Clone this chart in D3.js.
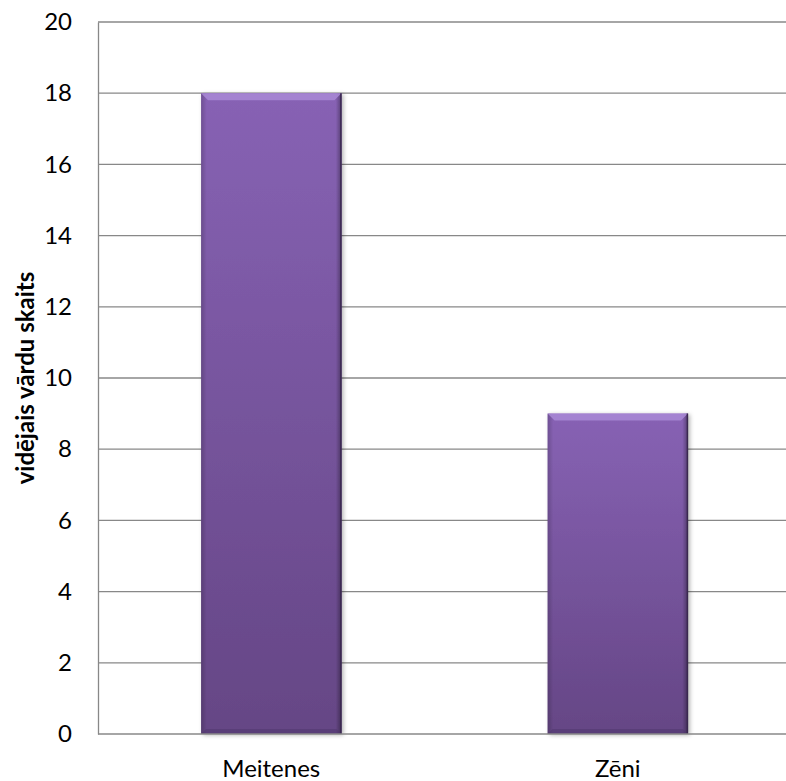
<!DOCTYPE html>
<html><head><meta charset="utf-8">
<script src="https://cdn.jsdelivr.net/npm/d3@7"></script>
<style>body{margin:0;background:#fff}svg{display:block}</style>
</head><body>
<script>
const categories = ["Meitenes", "Zēni"];
const values = [18, 9];
const yTicks = [0, 2, 4, 6, 8, 10, 12, 14, 16, 18, 20];
const yTitle = "vidējais vārdu skaits";

const FONT = "Lato, 'Open Sans', sans-serif";
const W = 786, H = 781;
const m = {left: 98, top: 22, right: -5, bottom: 47};
const svg = d3.select("body").append("svg").attr("width", W).attr("height", H);
const defs = svg.append("defs");
const g1 = defs.append("linearGradient").attr("id", "bg").attr("x1", 0).attr("y1", 0).attr("x2", 0).attr("y2", 1);
g1.append("stop").attr("offset", "0%").attr("stop-color", "#8762b4");
g1.append("stop").attr("offset", "100%").attr("stop-color", "#654685");
const g2 = defs.append("linearGradient").attr("id", "side").attr("x1", 0).attr("y1", 0).attr("x2", 1).attr("y2", 0);
g2.append("stop").attr("offset", "0%").attr("stop-color", "#000").attr("stop-opacity", 0.18);
g2.append("stop").attr("offset", "4%").attr("stop-color", "#000").attr("stop-opacity", 0);
g2.append("stop").attr("offset", "96%").attr("stop-color", "#000").attr("stop-opacity", 0);
g2.append("stop").attr("offset", "100%").attr("stop-color", "#000").attr("stop-opacity", 0.35);
const flt = defs.append("filter").attr("id", "sh").attr("x", "-10%").attr("y", "-10%").attr("width", "130%").attr("height", "130%");
flt.append("feDropShadow").attr("dx", 2).attr("dy", 1).attr("stdDeviation", 2).attr("flood-color", "#000").attr("flood-opacity", 0.3);

const x = d3.scaleBand().domain(categories).range([m.left, W - m.right]).paddingInner(0.595).paddingOuter(0.2975);
const y = d3.scaleLinear().domain([0, 20]).range([H - m.bottom, m.top]);

// gridlines
svg.append("g").selectAll("line").data(yTicks.filter(d => d > 0)).join("line")
  .attr("x1", m.left).attr("x2", W).attr("y1", d => y(d)).attr("y2", d => y(d))
  .attr("stroke", "#888").attr("stroke-width", 1.3);

// y axis
const ya = svg.append("g").attr("transform", `translate(${m.left},0)`)
  .call(d3.axisLeft(y).tickValues(yTicks).tickSize(0).tickPadding(26));
ya.select(".domain").attr("stroke", "#888").attr("stroke-width", 1.3);
ya.selectAll("text").attr("font-size", 24).attr("font-family", FONT).attr("fill", "#000");

// bars
const bars = svg.append("g").selectAll("g").data(values).join("g");
bars.append("rect")
  .attr("x", (d, i) => x(categories[i])).attr("width", x.bandwidth())
  .attr("y", d => y(d)).attr("height", d => y(0) - y(d))
  .attr("fill", "url(#bg)").attr("filter", "url(#sh)");
bars.append("rect")
  .attr("x", (d, i) => x(categories[i])).attr("width", x.bandwidth())
  .attr("y", d => y(d)).attr("height", d => y(0) - y(d))
  .attr("fill", "url(#side)");
bars.append("path")
  .attr("d", (d, i) => {
    const x0 = x(categories[i]), x1 = x0 + x.bandwidth(), t = y(d), b = 7;
    return `M${x0},${t}L${x1},${t}L${x1 - b},${t + b}L${x0 + b},${t + b}Z`;
  })
  .attr("fill", "#a98ad6").attr("opacity", 0.85);
bars.append("path")
  .attr("d", (d, i) => {
    const x0 = x(categories[i]), x1 = x0 + x.bandwidth(), bt = y(0), b = 5;
    return `M${x0},${bt}L${x1},${bt}L${x1 - b},${bt - b}L${x0 + b},${bt - b}Z`;
  })
  .attr("fill", "#4e356b").attr("opacity", 0.5);
bars.append("line")
  .attr("x1", (d, i) => x(categories[i]) + x.bandwidth() - 0.5)
  .attr("x2", (d, i) => x(categories[i]) + x.bandwidth() - 0.5)
  .attr("y1", d => y(d)).attr("y2", y(0))
  .attr("stroke", "#3a2850").attr("stroke-width", 1.5);

// baseline
svg.append("line").attr("x1", m.left).attr("x2", W).attr("y1", y(0)).attr("y2", y(0))
  .attr("stroke", "#888").attr("stroke-width", 1.3);

// x labels
svg.append("g").selectAll("text").data(categories).join("text")
  .attr("x", d => x(d) + x.bandwidth() / 2).attr("y", 777)
  .attr("text-anchor", "middle").attr("font-size", 24).attr("font-family", FONT).attr("fill", "#000").text(d => d);

// y title
svg.append("text").attr("transform", `translate(34,${(y(0) + y(20)) / 2}) rotate(-90)`)
  .attr("text-anchor", "middle").attr("font-size", 24).attr("font-family", FONT).attr("font-weight", "bold").attr("fill", "#000").text(yTitle);
</script>
</body></html>
